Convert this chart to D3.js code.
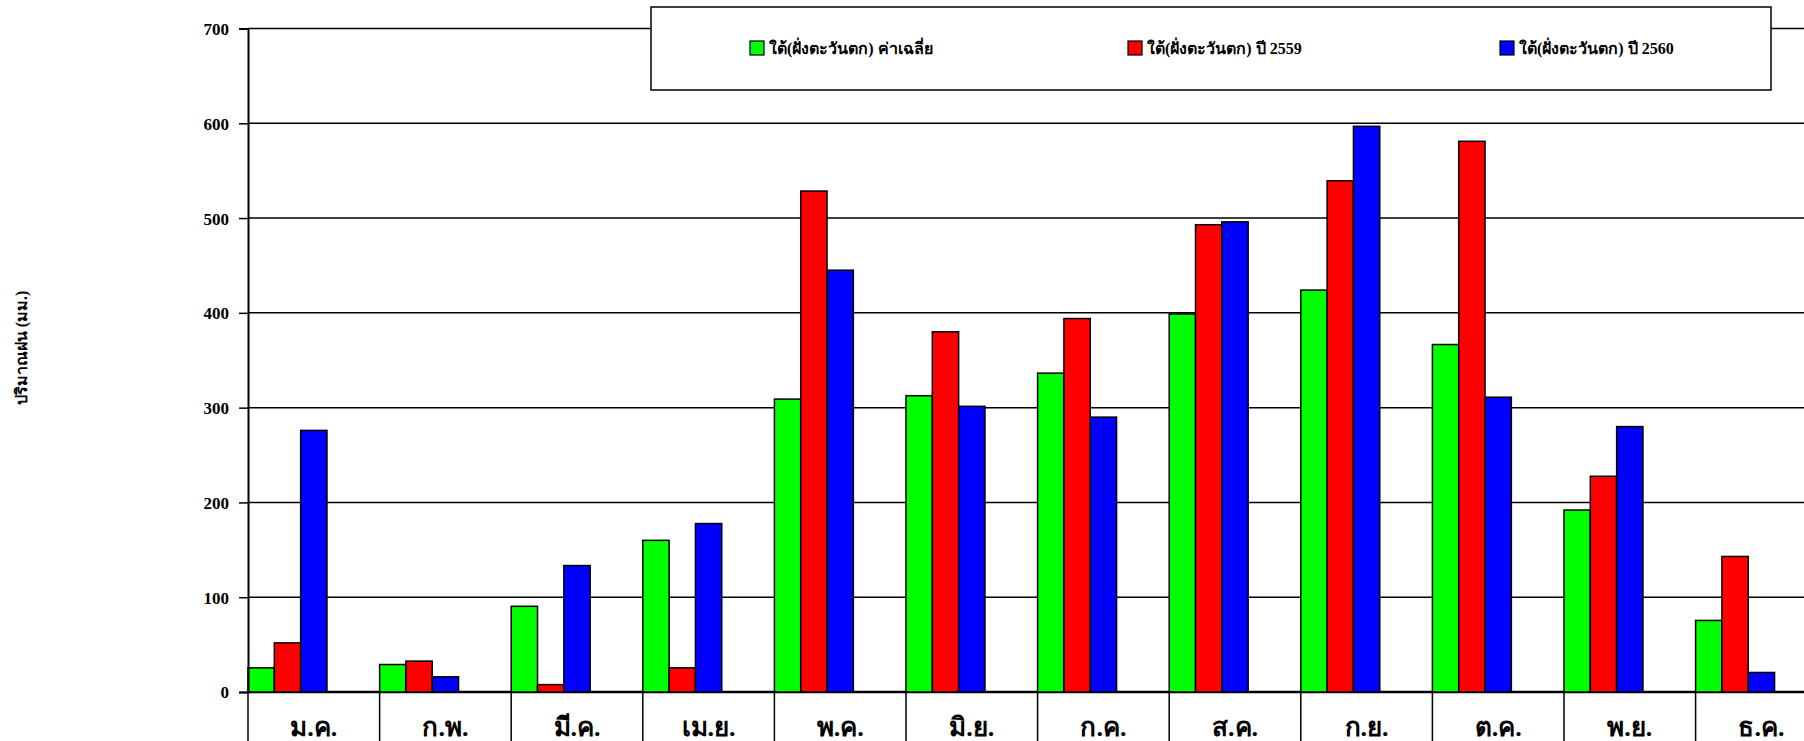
<!DOCTYPE html>
<html>
<head>
<meta charset="utf-8">
<script src="https://cdn.jsdelivr.net/npm/d3@7"></script>
<style>
  body { margin: 0; background: #fff; }
  svg { display: block; font-family: "Liberation Serif", "DejaVu Serif", serif; font-weight: bold; }
</style>
</head>
<body>
<svg id="chart" width="1804" height="741"></svg>
<script>
// chart data
const months = ['ม.ค.', 'ก.พ.', 'มี.ค.', 'เม.ย.', 'พ.ค.', 'มิ.ย.', 'ก.ค.', 'ส.ค.', 'ก.ย.', 'ต.ค.', 'พ.ย.', 'ธ.ค.'];
const seriesNames = ['ใต้(ฝั่งตะวันตก) ค่าเฉลี่ย', 'ใต้(ฝั่งตะวันตก) ปี 2559', 'ใต้(ฝั่งตะวันตก) ปี 2560'];
const avgValues = [25.5, 29, 90.4, 160, 309, 312.6, 336.4, 398.8, 424, 366.6, 192, 75.5];
const values2559 = [51.8, 32.6, 7.8, 25.5, 528.5, 380, 394, 493, 539.4, 581, 227.6, 143];
const values2560 = [276, 16, 133.4, 177.7, 445, 301.4, 290, 496, 596.8, 311, 280, 20.6];
const yTicks = [0, 100, 200, 300, 400, 500, 600, 700];
const colors = ['#00ff00', '#ff0000', '#0000ff'];

const allSeries = [avgValues, values2559, values2560];

const svg = d3.select('#chart');

const left = 248, bandW = 131.6;
const right = left + bandW * months.length;

// scales
const x = d3.scaleBand().domain(months).range([left, right]).padding(0);
const xs = d3.scaleBand().domain(d3.range(3)).range([0, x.bandwidth() * 0.6]).padding(0);
const y = d3.scaleLinear().domain([0, 700]).range([692, 28.5]);

// gridlines
svg.append('g')
  .selectAll('line')
  .data(yTicks)
  .enter()
  .append('line')
  .attr('x1', left)
  .attr('x2', right)
  .attr('y1', d => y(d))
  .attr('y2', d => y(d))
  .attr('stroke', '#000')
  .attr('stroke-width', d => d === 0 ? 2.5 : 1.5);

// bars
const groups = svg.append('g')
  .selectAll('g')
  .data(months)
  .enter()
  .append('g')
  .attr('transform', d => `translate(${x(d)},0)`);

groups.selectAll('rect')
  .data((m, i) => allSeries.map((s, k) => ({k: k, v: s[i]})))
  .enter()
  .append('rect')
  .attr('x', d => xs(d.k))
  .attr('width', xs.bandwidth())
  .attr('y', d => y(d.v))
  .attr('height', d => y(0) - y(d.v))
  .attr('fill', d => colors[d.k])
  .attr('stroke', '#000')
  .attr('stroke-width', 1.5);

// left axis
const yAxis = svg.append('g')
  .attr('transform', `translate(${left},0)`)
  .call(d3.axisLeft(y).tickValues(yTicks).tickSize(9).tickPadding(10));
yAxis.select('.domain').attr('stroke-width', 2);
yAxis.selectAll('.tick line').attr('stroke-width', 1.5);
yAxis.selectAll('.tick text')
  .attr('font-size', 17)
  .attr('font-family', '"Liberation Serif", serif')
  .attr('font-weight', 'bold')
  .attr('fill', '#000')
  .attr('dy', '0.35em');

// category separators below the axis
svg.append('g')
  .selectAll('line')
  .data(months)
  .enter()
  .append('line')
  .attr('x1', d => x(d))
  .attr('x2', d => x(d))
  .attr('y1', y(0))
  .attr('y2', 741)
  .attr('stroke', '#000')
  .attr('stroke-width', 1.5);

// month labels
svg.append('g')
  .selectAll('text')
  .data(months)
  .enter()
  .append('text')
  .attr('x', d => x(d) + x.bandwidth() / 2)
  .attr('y', 736)
  .attr('text-anchor', 'middle')
  .attr('font-size', 26)
  .text(d => d);

// y title
svg.append('text')
  .attr('transform', 'translate(27,348) rotate(-90)')
  .attr('text-anchor', 'middle')
  .attr('font-size', 16)
  .text('ปริมาณฝน (มม.)');

// legend
const legend = svg.append('g');
legend.append('rect')
  .attr('x', 651)
  .attr('y', 7)
  .attr('width', 1120)
  .attr('height', 83)
  .attr('fill', '#fff')
  .attr('stroke', '#000')
  .attr('stroke-width', 1.5);

const legendX = [750, 1128, 1500];
const items = legend.selectAll('g.item')
  .data(seriesNames)
  .enter()
  .append('g')
  .attr('class', 'item')
  .attr('transform', (d, i) => `translate(${legendX[i]},41)`);

items.append('rect')
  .attr('width', 14)
  .attr('height', 14)
  .attr('fill', (d, i) => colors[i])
  .attr('stroke', '#000')
  .attr('stroke-width', 1.2);

items.append('text')
  .attr('x', 19)
  .attr('y', 13)
  .attr('font-size', 16)
  .text(d => d);
</script>
</body>
</html>
